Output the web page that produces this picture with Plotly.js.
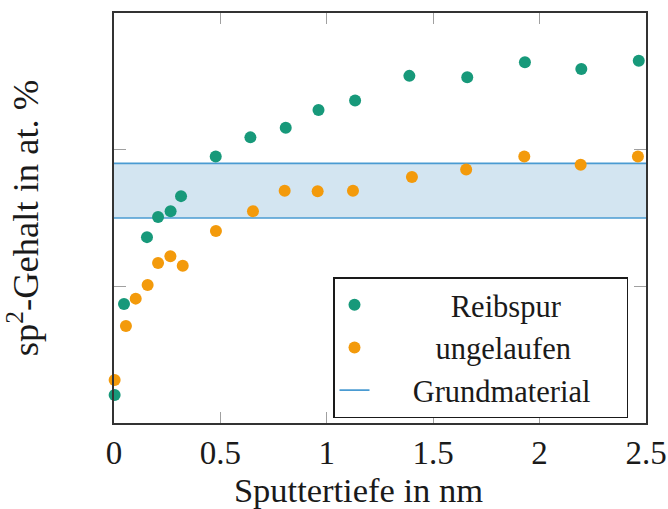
<!DOCTYPE html>
<html>
<head>
<meta charset="utf-8">
<script src="https://cdn.plot.ly/plotly-3.0.1.min.js"></script>
<style>
html,body{margin:0;padding:0;background:#fff;}
#chart{width:668px;height:509px;}
</style>
</head>
<body>
<div id="chart"></div>
<script>
// Sputtertiefe (nm) and sp2 content (arbitrary units)
var reibspurX = [0.003, 0.047, 0.155, 0.207, 0.266, 0.315, 0.478, 0.641, 0.807, 0.961, 1.133, 1.388, 1.660, 1.931, 2.196, 2.466];
var reibspurY = [2.05, 8.7, 13.6, 15.07, 15.5, 16.6, 19.5, 20.9, 21.6, 22.9, 23.6, 25.4, 25.3, 26.4, 25.9, 26.5];
var ungelaufenX = [0.003, 0.056, 0.102, 0.158, 0.207, 0.265, 0.323, 0.479, 0.653, 0.802, 0.957, 1.123, 1.400, 1.655, 1.928, 2.193, 2.462];
var ungelaufenY = [3.15, 7.1, 9.1, 10.1, 11.7, 12.2, 11.5, 14.05, 15.5, 17.0, 16.95, 17.0, 18.0, 18.55, 19.5, 18.9, 19.5];
var grundBand = [15.0, 19.0];       // lower / upper limit of Grundmaterial band
var xRange = [0, 2.5];
var xTicks = [0, 0.5, 1, 1.5, 2, 2.5];
var xTickLabels = ['0', '0.5', '1', '1.5', '2', '2.5'];
var yTicks = [10, 20];

var NB = '\u00A0', ZW = '\u200B';
function pad(n){ return NB.repeat(n); }

var green = '#17997a', orange = '#f39a0b', blue = '#4a9bd2', bandFill = '#d3e5f1';
var font = 'Liberation Serif';

var traces = [
  {x: xRange, y: [grundBand[0], grundBand[0]], mode: 'lines', line: {color: blue, width: 1.6}, showlegend: false, hoverinfo: 'skip'},
  {x: xRange, y: [grundBand[1], grundBand[1]], mode: 'lines', line: {color: blue, width: 1.6}, name: pad(5) + 'Grundmaterial' + pad(4) + ZW, legendrank: 3},
  {x: reibspurX, y: reibspurY, mode: 'markers', marker: {color: green, size: 12}, name: pad(10) + 'Reibspur', legendrank: 1, cliponaxis: false},
  {x: ungelaufenX, y: ungelaufenY, mode: 'markers', marker: {color: orange, size: 12}, name: pad(8) + 'ungelaufen', legendrank: 2, cliponaxis: false}
];

var layout = {
  width: 668, height: 509,
  margin: {l: 114, r: 22, t: 13, b: 86},
  paper_bgcolor: '#fff', plot_bgcolor: '#fff',
  font: {family: font, size: 33, color: '#1a1a1a'},
  showlegend: true,
  legend: {x: (333-114)/532, y: (423-277)/410, xanchor: 'left', yanchor: 'top',
           bgcolor: '#fff', bordercolor: '#1a1a1a', borderwidth: 1.5,
           font: {family: font, size: 30.5, color: '#1a1a1a'}, traceorder: 'normal'},
  shapes: [{type: 'rect', xref: 'x', yref: 'y', x0: xRange[0], x1: xRange[1], y0: grundBand[0], y1: grundBand[1],
            fillcolor: bandFill, line: {width: 0}, layer: 'below'}],
  xaxis: {range: xRange, tickvals: xTicks, ticktext: xTickLabels, ticks: 'inside', ticklen: 11, tickwidth: 1.3,
          tickcolor: '#a0a0a0', showline: true, mirror: 'ticks', linecolor: '#333', linewidth: 1.6,
          showgrid: false, zeroline: false, tickfont: {size: 33},
          title: {text: 'Sputtertiefe in nm' + pad(5) + ZW, font: {size: 34.5}, standoff: 7}},
  yaxis: {range: [0, 30], tickvals: yTicks, showticklabels: false, ticks: 'inside', ticklen: 12, tickwidth: 1.3,
          tickcolor: '#a0a0a0', showline: true, mirror: 'ticks', linecolor: '#333', linewidth: 1.6,
          showgrid: false, zeroline: false,
          title: {text: 'sp<sup>2</sup>-Gehalt in at. %', font: {size: 36.5}, standoff: 66}}
};

Plotly.newPlot('chart', traces, layout, {displayModeBar: false, staticPlot: true});
</script>
</body>
</html>
